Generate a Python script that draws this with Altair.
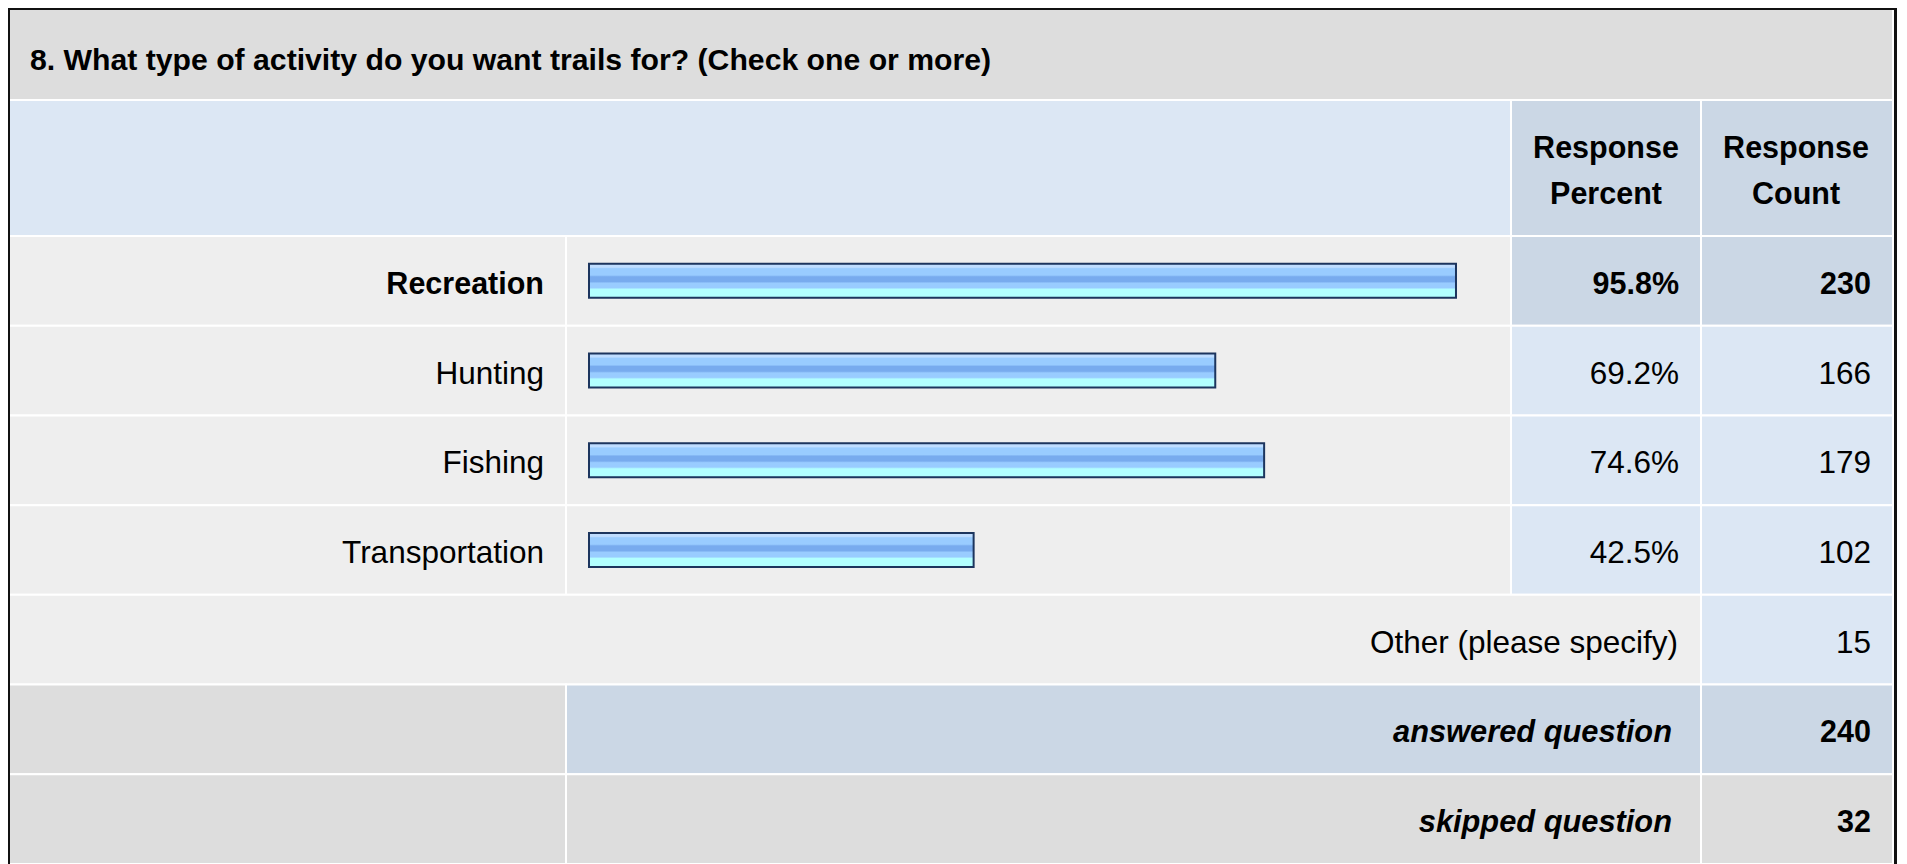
import altair as alt
import pandas as pd

# ---------------- data ----------------
TITLE = "8. What type of activity do you want trails for? (Check one or more)"
HEAD_PCT = ["Response", "Percent"]
HEAD_CNT = ["Response", "Count"]
categories = ["Recreation", "Hunting", "Fishing", "Transportation"]
percents = [95.8, 69.2, 74.6, 42.5]
counts = [230, 166, 179, 102]
other_label = "Other (please specify)"
other_count = 15
answered_label = "answered question"
answered_count = 240
skipped_label = "skipped question"
skipped_count = 32

rows = categories + [other_label, answered_label, skipped_label]

# ---------------- layout / style ----------------
W, H = 1891, 856
L, R = 1, 1885                 # outer cell edges
C1, C2, C3 = 558, 1503, 1693   # column boundaries
ROW_RANGE = [228, 856]
BAR_RANGE = [581, 1486]
FONT = "Liberation Sans, Arial, Helvetica, sans-serif"
FS_T = 30.2     # title
FS_B = 30.5     # bold text
FS_R = 31.5     # regular text
FS_I = 30.8     # bold italic text
GRAY1, GRAY2 = "#EEEEEE", "#DDDDDD"
BLUE1, BLUE2 = "#DCE7F4", "#CBD7E5"

top_idx = percents.index(max(percents))

yscale = alt.Scale(domain=rows, range=ROW_RANGE, paddingInner=0, paddingOuter=0)
Y = alt.Y("row:N", scale=yscale, axis=None)

dummy = pd.DataFrame({"a": [0]})


def band(x0, x1, y0, y1, fill):
    return alt.Chart(dummy).mark_rect(stroke="white", strokeWidth=2, fill=fill).encode(
        x=alt.value(x0), x2=alt.value(x1), y=alt.value(y0), y2=alt.value(y1)
    )


# cells of the body rows
cell_rows = []
for i, c in enumerate(categories):
    f = BLUE2 if i == top_idx else BLUE1
    cell_rows += [(c, L, C1, GRAY1), (c, C1, C2, GRAY1), (c, C2, C3, f), (c, C3, R, f)]
cell_rows += [(other_label, L, C3, GRAY1), (other_label, C3, R, BLUE1)]
cell_rows += [(answered_label, L, C1, GRAY2), (answered_label, C1, C3, BLUE2), (answered_label, C3, R, BLUE2)]
cell_rows += [(skipped_label, L, C1, GRAY2), (skipped_label, C1, C3, GRAY2), (skipped_label, C3, R, GRAY2)]
cells = pd.DataFrame(cell_rows, columns=["row", "x0", "x1", "fill"])

cell_layer = alt.Chart(cells).mark_rect(stroke="white", strokeWidth=2).encode(
    x=alt.X("x0:Q", scale=None), x2="x1:Q", y=Y, fill=alt.Fill("fill:N", scale=None)
)

bars_df = pd.DataFrame({
    "row": categories,
    "pct": percents,
    "count": counts,
    "top": [i == top_idx for i in range(len(categories))],
})

grad = alt.LinearGradient(
    gradient="linear", x1=0, x2=0, y1=0, y2=1,
    stops=[
        alt.GradientStop(color="#BFDDFF", offset=0.0),
        alt.GradientStop(color="#BFDDFF", offset=0.10),
        alt.GradientStop(color="#99CCFF", offset=0.14),
        alt.GradientStop(color="#99CCFF", offset=0.33),
        alt.GradientStop(color="#78ABEE", offset=0.38),
        alt.GradientStop(color="#78ABEE", offset=0.52),
        alt.GradientStop(color="#99CCFF", offset=0.57),
        alt.GradientStop(color="#99CCFF", offset=0.70),
        alt.GradientStop(color="#B2FFFF", offset=0.75),
        alt.GradientStop(color="#B2FFFF", offset=1.0),
    ],
)

bar_layer = alt.Chart(bars_df).mark_bar(
    size=34, color=grad, stroke="#1C355E", strokeWidth=2
).encode(
    x=alt.X("pct:Q", scale=alt.Scale(domain=[0, 100], range=BAR_RANGE), axis=None),
    y=Y,
)


def txt(data, align, x, weight="normal", style="normal", **enc):
    fs = FS_R if weight == "normal" else (FS_I if style == "italic" else FS_B)
    return alt.Chart(data).mark_text(
        align=align, baseline="alphabetic", dy=13, font=FONT, fontSize=fs,
        fontWeight=weight, fontStyle=style, color="black",
    ).encode(x=alt.value(x), y=Y, **enc)


label_bold = txt(bars_df, "right", 536, "bold", text="row:N").transform_filter("datum.top")
label_norm = txt(bars_df, "right", 536, text="row:N").transform_filter("!datum.top")
pct_bold = txt(bars_df, "right", 1671, "bold", text="plab:N").transform_calculate(
    plab="format(datum.pct, '.1f') + '%'").transform_filter("datum.top")
pct_norm = txt(bars_df, "right", 1671, text="plab:N").transform_calculate(
    plab="format(datum.pct, '.1f') + '%'").transform_filter("!datum.top")
cnt_bold = txt(bars_df, "right", 1863, "bold", text="count:Q").transform_filter("datum.top")
cnt_norm = txt(bars_df, "right", 1863, text="count:Q").transform_filter("!datum.top")

summary = pd.DataFrame({
    "row": [other_label, answered_label, skipped_label],
    "count": [other_count, answered_count, skipped_count],
    "emph": [False, True, True],
})
sum_lab_norm = txt(summary, "right", 1670, text="row:N").transform_filter("!datum.emph")
sum_lab_emph = txt(summary, "right", 1664, "bold", "italic", text="row:N").transform_filter("datum.emph")
sum_cnt_norm = txt(summary, "right", 1863, text="count:Q").transform_filter("!datum.emph")
sum_cnt_emph = txt(summary, "right", 1863, "bold", text="count:Q").transform_filter("datum.emph")

title = alt.Chart(dummy).mark_text(
    align="left", baseline="alphabetic", font=FONT, fontSize=FS_T, fontWeight="bold", color="black"
).encode(x=alt.value(22), y=alt.value(62), text=alt.value(TITLE))

head_pct = alt.Chart(dummy).mark_text(
    align="center", baseline="alphabetic", font=FONT, fontSize=FS_B, fontWeight="bold",
    color="black", lineHeight=46,
).encode(x=alt.value(1598), y=alt.value(150), text=alt.value(HEAD_PCT))
head_cnt = alt.Chart(dummy).mark_text(
    align="center", baseline="alphabetic", font=FONT, fontSize=FS_B, fontWeight="bold",
    color="black", lineHeight=46,
).encode(x=alt.value(1788), y=alt.value(150), text=alt.value(HEAD_CNT))


def rule(x0, x1, y0, y1, w):
    return alt.Chart(dummy).mark_rule(color="#111111", strokeWidth=w).encode(
        x=alt.value(x0), x2=alt.value(x1), y=alt.value(y0), y2=alt.value(y1)
    )


borders = [
    rule(1, 1, 0, H, 2),
    rule(0, 1889, 1, 1, 2),
    rule(1887.5, 1887.5, 0, H, 3),
]

chart = alt.layer(
    band(L, R, 1, 92, GRAY2),
    band(L, C2, 92, 228, BLUE1),
    band(C2, C3, 92, 228, BLUE2),
    band(C3, R, 92, 228, BLUE2),
    cell_layer,
    bar_layer,
    label_bold, label_norm, pct_bold, pct_norm, cnt_bold, cnt_norm,
    sum_lab_norm, sum_lab_emph, sum_cnt_norm, sum_cnt_emph,
    title, head_pct, head_cnt,
    *borders,
).properties(
    width=W, height=H, padding=0, autosize=alt.AutoSizeParams(type="none"), background="white"
).configure_view(strokeWidth=0)

chart.save("out.html", embed_options={"renderer": "svg", "actions": False})
